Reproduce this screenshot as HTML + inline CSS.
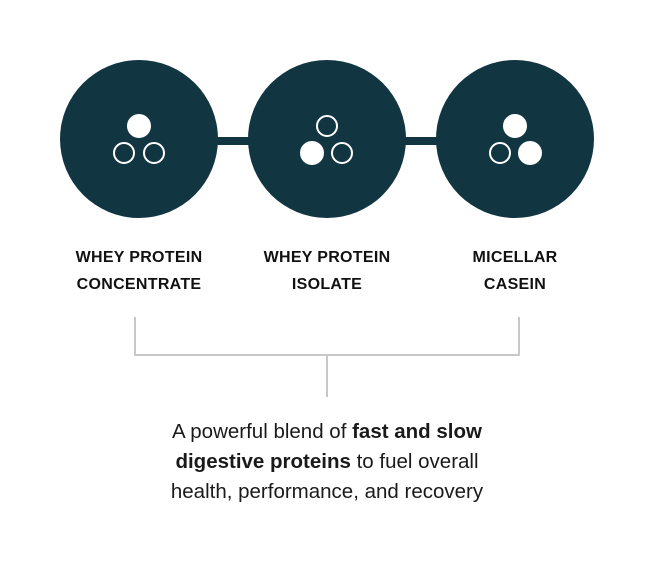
<!DOCTYPE html>
<html><head><style>
body{margin:0;background:#fff;width:655px;height:566px;overflow:hidden;font-family:"Liberation Sans",sans-serif;}
.lbl{position:absolute;width:240px;text-align:center;font-weight:bold;font-size:16px;line-height:27px;color:#111;letter-spacing:0.3px}
.txt{position:absolute;left:27px;width:600px;top:417px;text-align:center;font-size:20.5px;line-height:30px;color:#1a1a1a;letter-spacing:0px}
</style></head><body>
<svg width="655" height="566" style="position:absolute;left:0;top:0">
<rect x="210" y="137" width="240" height="8" fill="#123542"/>
<circle cx="139" cy="139" r="79" fill="#123542"/>
<circle cx="327" cy="139" r="79" fill="#123542"/>
<circle cx="515" cy="139" r="79" fill="#123542"/>
<g stroke="#fff" stroke-width="2">
<circle cx="139" cy="126" r="11" fill="#fff"/>
<circle cx="124" cy="153" r="10" fill="none"/>
<circle cx="154" cy="153" r="10" fill="none"/>
<circle cx="327" cy="126" r="10" fill="none"/>
<circle cx="312" cy="153" r="11" fill="#fff"/>
<circle cx="342" cy="153" r="10" fill="none"/>
<circle cx="515" cy="126" r="11" fill="#fff"/>
<circle cx="500" cy="153" r="10" fill="none"/>
<circle cx="530" cy="153" r="11" fill="#fff"/>
</g>
<g stroke="#c8c8c8" stroke-width="2" fill="none">
<path d="M135 317 V355 H519 V317"/>
<path d="M327 355 V397"/>
</g>
</svg>
<div class="lbl" style="left:19px;top:244px">WHEY PROTEIN<br>CONCENTRATE</div>
<div class="lbl" style="left:207px;top:244px">WHEY PROTEIN<br>ISOLATE</div>
<div class="lbl" style="left:395px;top:244px">MICELLAR<br>CASEIN</div>
<div class="txt">A powerful blend of <b>fast and slow<br>digestive proteins</b> to fuel overall<br>health, performance, and recovery</div>
</body></html>
